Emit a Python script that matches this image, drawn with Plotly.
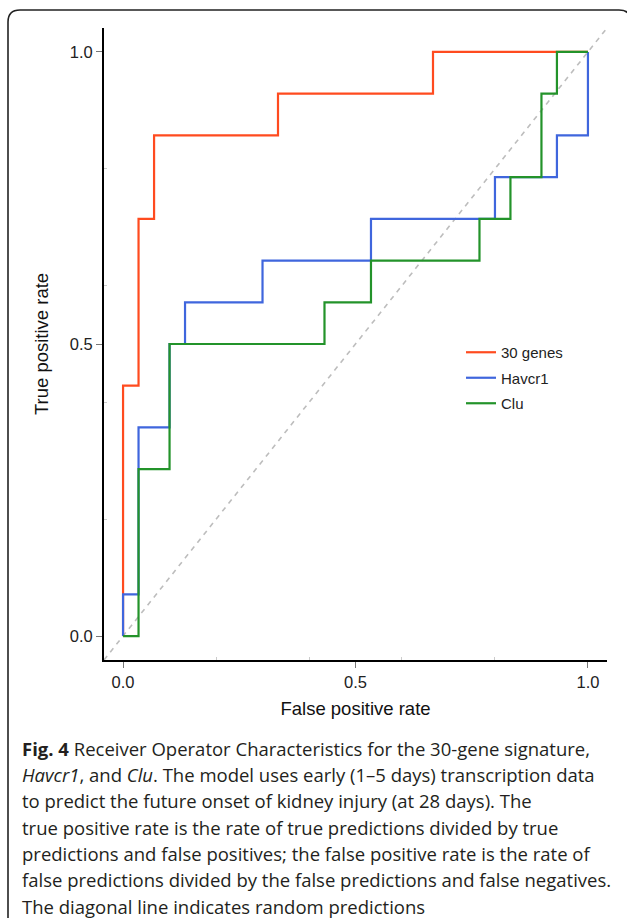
import plotly.graph_objects as go

# ---- data (ROC points; hv steps) ----
series_names = ["30 genes", "Havcr1", "Clu"]
fpr_30genes = [0.0, 0.0, 0.0333, 0.0667, 0.3333, 0.6667, 1.0]
tpr_30genes = [0.0, 0.4286, 0.7143, 0.8571, 0.9286, 1.0, 1.0]
fpr_havcr1 = [0.0, 0.0, 0.0333, 0.1, 0.1333, 0.3, 0.5333, 0.8, 0.9333, 1.0]
tpr_havcr1 = [0.0, 0.0714, 0.3571, 0.5, 0.5714, 0.6429, 0.7143, 0.7857, 0.8571, 1.0]
fpr_clu = [0.0, 0.0333, 0.1, 0.4333, 0.5333, 0.7667, 0.8333, 0.9, 0.9333, 1.0]
tpr_clu = [0.0, 0.2857, 0.5, 0.5714, 0.6429, 0.7143, 0.7857, 0.9286, 1.0, 1.0]
tick_vals = [0.0, 0.5, 1.0]
tick_text = ["0.0", "0.5", "1.0"]
minor_vals = [0.2, 0.4, 0.6, 0.8]
axis_range = [-0.041, 1.041]

colors = ["#FF4B1F", "#3F66DD", "#23932A"]

caption_lines = [
    "<b>Fig. 4</b> Receiver Operator Characteristics for the 30-gene signature,",
    "<i>Havcr1</i>, and <i>Clu</i>. The model uses early (1–5 days) transcription data",
    "to predict the future onset of kidney injury (at 28 days). The",
    "true positive rate is the rate of true predictions divided by true",
    "predictions and false positives; the false positive rate is the rate of",
    "false predictions divided by the false predictions and false negatives.",
    "The diagonal line indicates random predictions",
]

W, H = 627, 923
ML, MR, MT, MB = 104, 20, 28, 263
PW, PH = W - ML - MR, H - MT - MB


def px_x(px):
    return (px - ML) / PW


def px_y(py):
    return (H - MB - py) / PH


fig = go.Figure()

# diagonal reference line across the full axis range
fig.add_trace(go.Scatter(
    x=axis_range, y=axis_range, mode="lines",
    line=dict(color="#BDBDBD", width=1.6, dash="5px,5px"),
    showlegend=False, hoverinfo="skip"))

for name, xs, ys, c in zip(series_names,
                           [fpr_30genes, fpr_havcr1, fpr_clu],
                           [tpr_30genes, tpr_havcr1, tpr_clu], colors):
    fig.add_trace(go.Scatter(
        x=xs, y=ys, mode="lines", name=name, legendgroup=name,
        line=dict(color=c, width=2.2, shape="hv")))

axis_common = dict(
    range=axis_range, showgrid=False, zeroline=False,
    showline=True, linecolor="black", linewidth=2,
    ticks="outside", ticklen=6, tickwidth=1, tickcolor="#777777",
    tickvals=tick_vals, ticktext=tick_text,
    tickfont=dict(family="Liberation Sans, Arial", size=16.5, color="#222222"),
    minor=dict(tickvals=minor_vals, ticks="inside", ticklen=3,
               tickcolor="#CCCCCC", tickwidth=1),
)

fig.update_xaxes(**axis_common,
                 title=dict(text="False positive rate", standoff=12,
                            font=dict(family="Liberation Sans, Arial", size=18.5, color="#111111")))
fig.update_yaxes(**axis_common,
                 title=dict(text="True positive rate", standoff=16,
                            font=dict(family="Liberation Sans, Arial", size=18.5, color="#111111")))

annotations = []
line_y = [748, 774, 800, 827, 853, 879, 906]
for txt, py in zip(caption_lines, line_y):
    annotations.append(dict(
        text=txt, xref="paper", yref="paper", x=px_x(20), y=px_y(py),
        xanchor="left", yanchor="middle", showarrow=False, align="left",
        font=dict(family="Open Sans", size=18.5, color="#231F20")))

# rounded border of the figure panel (top-left corner visible)
r = 12
border_path = (
    f"M {px_x(8)},{px_y(918)} L {px_x(8)},{px_y(10 + r)} "
    f"Q {px_x(8)},{px_y(10)} {px_x(8 + r)},{px_y(10)} "
    f"L {px_x(619)},{px_y(10)} Q {px_x(631)},{px_y(10)} {px_x(631)},{px_y(10 + r)}"
)

fig.update_layout(
    width=W, height=H,
    margin=dict(l=ML, r=MR, t=MT, b=MB),
    paper_bgcolor="white", plot_bgcolor="white",
    showlegend=True,
    legend=dict(x=px_x(461), y=px_y(336), xanchor="left", yanchor="top",
                bgcolor="rgba(0,0,0,0)", tracegroupgap=3,
                font=dict(family="Liberation Sans, Arial", size=15, color="#222222")),
    annotations=annotations,
    shapes=[dict(type="path", path=border_path, xref="paper", yref="paper",
                 line=dict(color="#222222", width=1.6), layer="above")],
)

fig.write_html("out.html",
               config={"displayModeBar": False},
               post_script="document.body.style.margin='0';document.body.style.overflow='hidden';")
